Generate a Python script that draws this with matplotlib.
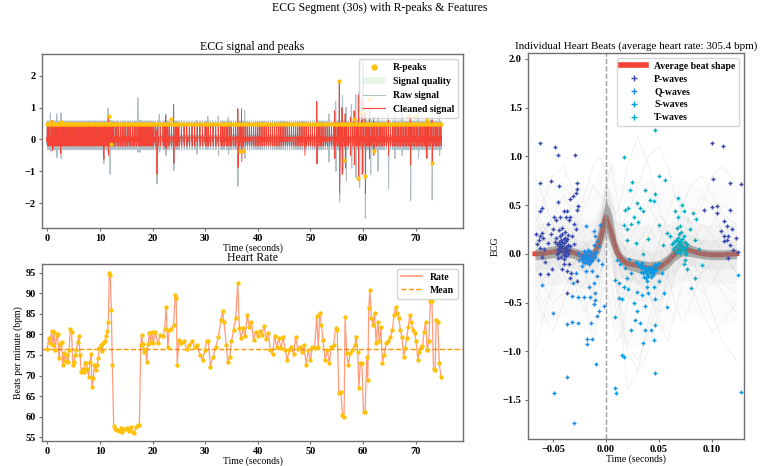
import numpy as np
import matplotlib
matplotlib.use("Agg")
import matplotlib.pyplot as plt
from matplotlib.lines import Line2D
from matplotlib.patches import Patch

plt.rcParams['font.family'] = ['Liberation Serif', 'DejaVu Serif']
plt.rcParams['font.weight'] = 'bold'
plt.rcParams['axes.unicode_minus'] = True

# ---------------- Heart rate (also R-peak times) ----------------
hr_times = [0.00,0.26,0.51,0.83,1.02,1.27,1.53,1.78,1.97,2.22,
            2.48,2.73,2.92,3.17,3.43,3.68,3.93,4.13,4.38,4.63,
            4.82,5.08,5.27,5.52,5.77,6.03,6.22,6.47,6.72,6.98,
            7.17,7.42,7.61,7.86,8.12,8.31,8.50,8.75,8.94,9.19,
            9.45,9.70,9.89,10.15,10.40,10.65,10.91,11.16,11.41,11.60,
            11.79,11.98,12.17,12.36,12.62,12.93,13.25,13.57,13.95,14.27,
            14.58,14.90,15.22,15.53,15.85,16.23,16.55,16.86,17.24,17.50,
            17.75,17.94,18.13,18.38,18.64,18.89,19.14,19.40,19.65,19.90,
            20.16,20.5,21.0,21.5,22.0,22.3,22.6,22.9,23.2,23.6,
            24.0,24.3,24.5,24.7,25.0,25.5,26.0,26.5,27.0,27.5,
            28.0,28.5,29.0,29.5,30.0,30.3,30.6,31.0,31.5,32.0,
            32.5,33.0,33.3,33.6,34.0,34.3,34.7,35.0,35.4,35.8,
            36.2,36.5,36.8,37.2,37.6,38.0,38.4,38.8,39.2,39.6,
            40.0,40.4,40.8,41.2,41.6,42.0,42.4,42.8,43.2,43.6,
            44.0,44.4,44.8,45.2,45.6,46.0,46.4,46.8,47.2,47.6,
            48.0,48.4,48.8,49.2,49.6,50.0,50.4,50.8,51.2,51.5,
            51.8,52.1,52.4,52.8,53.2,53.6,54.0,54.4,54.8,55.1,
            55.4,55.8,56.1,56.4,56.6,56.9,57.2,57.6,58.0,58.4,
            58.7,59.0,59.2,59.5,59.8,60.1,60.4,60.7,60.9,61.1,
            61.3,61.6,61.9,62.2,62.5,62.8,63.1,63.4,63.7,64.0,
            64.4,64.8,65.2,65.6,65.9,66.2,66.5,66.8,67.1,67.4,
            67.7,68.0,68.3,68.6,68.9,69.2,69.5,69.8,70.1,70.4,
            70.7,71.0,71.3,71.6,71.9,72.2,72.5,72.8,73.1,73.4,
            73.7,73.9,74.2,74.5,74.8]
hr_values = [76.4,79.1,77.8,80.9,77.4,80.5,76.2,79.9,80.2,74.2,
             77.6,78.1,72.6,75.4,73.5,75.0,73.4,76.2,81.3,80.5,
             72.6,73.2,75.0,76.2,78.1,79.6,75.0,70.9,71.7,70.9,
             73.0,73.0,71.6,69.7,73.4,75.2,67.3,69.3,72.6,71.3,
             72.6,74.3,76.6,77.4,76.0,77.8,78.3,79.5,80.9,83.1,
             94.9,94.5,86.0,72.6,57.8,57.0,56.7,56.5,57.3,56.3,
             57.0,57.0,57.2,56.5,57.4,56.3,56.1,57.5,57.9,57.9,
             77.4,79.9,77.6,75.8,76.4,73.4,77.6,80.3,78.1,80.5,
             77.8,80.7,77.8,79.9,79.5,81.3,86.6,76.9,81.1,81.4,
             82.3,89.6,88.8,72.6,78.7,77.8,78.5,76.4,77.4,78.3,
             76.9,77.4,75.0,73.9,76.2,78.3,78.5,72.2,74.6,77.0,
             79.3,83.5,85.6,82.9,77.4,73.4,74.6,78.3,81.1,83.9,
             92.5,81.5,79.1,81.5,79.5,84.8,81.7,83.1,78.7,80.7,
             79.5,80.9,79.9,82.1,78.8,80.3,76.2,75.2,79.6,77.0,
             79.1,76.6,79.3,76.2,73.8,76.2,77.0,75.2,79.3,76.4,
             77.0,75.8,77.4,72.6,76.2,73.8,77.0,76.6,84.5,77.0,
             85.3,82.3,78.7,73.8,76.2,73.0,77.0,77.4,81.5,81.1,
             65.7,65.9,60.4,60.0,84.2,75.4,72.6,75.4,76.2,77.4,
             79.3,75.8,66.9,73.0,73.0,61.2,61.2,74.6,68.9,86.4,
             90.9,83.9,82.3,85.2,77.8,83.1,78.3,81.7,73.0,75.0,
             77.8,78.3,79.3,81.1,84.8,86.6,85.2,83.9,81.1,79.3,
             74.4,76.6,79.1,81.9,84.8,82.9,81.1,80.4,78.3,73.9,
             75.8,77.0,77.2,80.7,83.1,76.2,78.3,88.0,88.0,71.7,
             71.3,83.5,83.1,73.0,69.7]
assert len(hr_times) == len(hr_values)

# ---------------- ECG signal ----------------
wave_offsets = [-0.10, -0.04, 0.0, 0.04, 0.12]       # s relative to R-peak
clean_wave = [0.05, -0.08, 0.47, -0.21, 0.08]
raw_wave = [0.10, -0.16, 0.58, -0.32, 0.14]
rpeak_amp = 0.47

clean_ev_t  = [1.0, 2.5, 10.7, 11.6, 20.8, 22.5, 24.0, 36.2, 36.9, 48.9, 51.2, 54.6, 55.5, 56.0,
               56.6, 57.6, 58.3, 59.1, 59.8, 60.4, 61.2, 62.0, 64.8, 69.0, 72.1, 73.1]
clean_ev_hi = [0.6, 0.55, 0.35, 0.75, 0.3, 0.75, 1.09, 0.96, 0.96, 0.3, 1.19, 0.9, 1.83, 1.0,
               0.8, 0.7, 0.9, 1.4, 1.2, 0.8, 0.9, 0.7, 0.6, 0.7, 0.7, 0.6]
clean_ev_lo = [-0.35, -0.45, -0.62, -0.5, -1.09, -0.3, -0.75, -0.88, -0.70, -0.5, -0.77, -0.6, -1.7, -1.1,
               -0.9, -0.5, -0.8, -1.3, -1.1, -1.7, -0.6, -0.5, -0.5, -0.8, -0.6, -0.8]

raw_ev_t  = [0.6, 1.8, 2.6, 10.7, 11.5, 11.9, 17.2, 17.6, 20.8, 21.3, 22.5, 24.0, 28.4, 30.5, 32.5,
             34.4, 36.2, 37.5, 51.2, 53.5, 54.8, 55.5, 56.1, 56.8, 57.8, 58.6, 59.3, 60.0, 60.4,
             61.4, 62.8, 64.8, 66.0, 67.4, 69.0, 70.5, 73.1, 74.5]
raw_ev_hi = [0.83, 0.8, 0.83, 0.5, 0.98, 0.6, 1.31, 0.6, 0.4, 0.78, 0.8, 1.09, 0.6, 0.72, 0.72,
             0.7, 0.96, 0.9, 1.19, 0.8, 1.2, 1.83, 1.39, 1.0, 1.1, 1.4, 1.5, 2.48, 0.9,
             1.0, 0.7, 0.8, 0.9, 0.9, 0.8, 0.9, 0.7, 0.8]
raw_ev_lo = [-0.4, -0.57, -0.6, -0.75, -0.4, -1.09, -0.40, -0.40, -1.40, -0.4, -0.5, -0.98, -0.46, -0.3, -0.5,
             -0.46, -1.47, -0.6, -0.77, -0.7, -1.0, -1.96, -1.0, -1.3, -0.9, -1.2, -1.5, -1.0, -2.48,
             -1.1, -1.0, -1.55, -0.6, -0.5, -1.91, -0.6, -1.9, -0.5]

extra_rpeak_t = [0.8, 2.6, 11.7, 12.2, 23.6, 36.6, 37.2, 55.5, 56.3, 58.3, 59.1, 59.8, 60.4, 61.2,
                 62.0, 68.6, 69.9, 72.1, 73.1]
extra_rpeak_v = [0.56, 0.55, 0.73, -0.13, 0.63, -0.36, -0.36, 1.83, -0.65, 0.65, -1.2, 0.87, -1.15, 1.27,
                 -0.36, 0.72, 0.72, 0.6, -0.75]

# ---------------- Individual heart beats ----------------
beat_t   = [-0.067,-0.06,-0.05,-0.04,-0.03,-0.02,-0.012,-0.006,0.0,0.005,0.01,0.015,0.02,0.03,0.04,0.05,0.058,0.065,0.072,0.08,0.09,0.1,0.11,0.123]
avg_beat = [0.0,0.0,0.02,0.04,0.01,-0.03,-0.02,0.12,0.38,0.22,0.02,-0.06,-0.10,-0.12,-0.15,-0.14,-0.08,0.00,0.06,0.03,0.00,-0.01,-0.01,0.0]
core_hi  = [0.05,0.06,0.08,0.10,0.06,0.03,0.05,0.30,0.55,0.42,0.12,0.00,-0.04,-0.06,-0.08,-0.07,-0.01,0.08,0.14,0.09,0.05,0.04,0.04,0.05]
core_lo  = [-0.06,-0.06,-0.04,-0.02,-0.05,-0.09,-0.08,0.02,0.22,0.08,-0.06,-0.12,-0.16,-0.19,-0.22,-0.21,-0.15,-0.07,-0.02,-0.03,-0.05,-0.06,-0.06,-0.05]
mid_hi   = [0.15,0.16,0.18,0.20,0.17,0.13,0.16,0.38,0.62,0.50,0.20,0.10,0.06,0.05,0.03,0.04,0.10,0.18,0.24,0.19,0.15,0.14,0.14,0.15]
mid_lo   = [-0.15,-0.16,-0.14,-0.12,-0.15,-0.20,-0.20,-0.08,0.12,-0.02,-0.18,-0.25,-0.28,-0.30,-0.33,-0.32,-0.26,-0.17,-0.10,-0.12,-0.15,-0.16,-0.16,-0.15]
haze_hi  = [0.30,0.32,0.35,0.38,0.35,0.30,0.35,0.50,0.75,0.60,0.35,0.30,0.30,0.30,0.28,0.28,0.30,0.35,0.40,0.35,0.30,0.30,0.30,0.30]
haze_lo  = [-0.30,-0.32,-0.32,-0.30,-0.32,-0.36,-0.36,-0.20,0.00,-0.15,-0.35,-0.42,-0.45,-0.48,-0.50,-0.48,-0.40,-0.32,-0.28,-0.28,-0.30,-0.30,-0.30,-0.30]
wide_hi  = [0.65,0.70,0.72,0.75,0.70,0.68,0.72,0.85,1.05,0.95,0.75,0.70,0.72,0.75,0.75,0.72,0.70,0.72,0.75,0.72,0.70,0.72,0.72,0.70]
wide_lo  = [-0.70,-0.72,-0.70,-0.65,-0.70,-0.78,-0.80,-0.60,-0.45,-0.60,-0.80,-0.90,-0.95,-0.95,-0.90,-0.85,-0.75,-0.65,-0.60,-0.62,-0.65,-0.68,-0.70,-0.72]
outlier_beats = [
    [0.3,0.5,0.8,0.9,0.6,0.3,0.2,0.35,0.5,0.4,0.3,0.3,0.4,0.7,1.0,1.1,0.9,0.6,0.4,0.3,0.5,0.8,0.9,0.7],
    [-0.4,-0.6,-0.8,-0.5,-0.2,-0.5,-0.9,-0.6,0.2,0.1,-0.3,-0.6,-0.9,-1.1,-0.8,-0.5,-0.3,-0.2,-0.1,-0.3,-0.6,-0.8,-0.7,-0.5],
    [0.8,0.6,0.3,0.1,0.2,0.5,0.7,0.6,0.5,0.3,-0.2,-0.5,-0.4,-0.1,0.2,0.4,0.3,0.1,0.2,0.4,0.6,0.5,0.2,0.0],
    [-1.0,-0.7,-0.3,0.0,-0.3,-0.6,-0.4,0.0,0.4,0.1,-0.3,-0.7,-1.0,-1.2,-1.0,-0.6,-0.2,0.1,0.2,0.0,-0.3,-0.6,-0.9,-1.1],
    [0.2,0.0,-0.2,-0.1,0.3,0.6,0.9,1.0,0.8,0.4,0.2,0.0,0.1,0.3,0.5,0.3,0.0,-0.2,-0.1,0.1,0.3,0.2,0.0,-0.2],
    [-0.2,-0.1,0.1,0.4,0.5,0.2,-0.2,-0.3,0.1,0.0,-0.4,-0.8,-1.4,-1.2,-0.7,-0.3,0.0,0.2,0.3,0.2,0.1,0.3,0.5,0.4],
    [0.5,0.3,0.1,0.0,-0.1,0.0,0.2,0.4,0.6,0.5,0.4,0.6,0.9,1.2,0.9,0.5,0.2,0.1,0.0,-0.2,-0.4,-0.3,-0.1,0.1],
    [-0.5,-0.3,0.0,0.3,0.2,-0.2,-0.5,-0.3,0.3,0.2,0.0,-0.2,-0.3,-0.2,-0.4,-0.6,-0.5,-0.2,0.0,-0.1,-0.2,-0.1,0.0,-0.2],
    [0.1,0.2,0.4,0.6,0.4,0.1,-0.1,0.2,0.7,0.9,0.6,0.2,-0.1,-0.3,-0.2,0.1,0.4,0.6,0.5,0.3,0.1,-0.1,-0.3,-0.4],
    [-0.1,-0.3,-0.5,-0.4,-0.1,0.1,0.0,-0.2,0.0,-0.3,-0.6,-0.5,-0.2,0.1,0.3,0.1,-0.2,-0.5,-0.7,-0.5,-0.2,0.1,0.2,0.3],
    [0.4,0.2,0.0,-0.2,-0.4,-0.3,0.0,0.3,0.7,0.6,0.3,0.1,0.0,0.1,0.0,-0.2,-0.1,0.2,0.5,0.7,0.8,0.6,0.4,0.3],
    [-0.3,-0.5,-0.4,-0.1,0.0,-0.2,-0.4,-0.5,-0.3,-0.6,-0.9,-0.8,-0.5,-0.3,-0.4,-0.7,-0.9,-0.6,-0.3,-0.1,0.0,-0.2,-0.4,-0.6],
]

p_x = [-0.046,-0.044,-0.042,-0.040,-0.038,-0.036,-0.034,-0.045,-0.043,-0.041,-0.039,-0.037,-0.035,-0.046,-0.044,-0.042,
       -0.040,-0.038,-0.036,-0.047,-0.043,-0.041,-0.039,-0.037,-0.045,-0.042,-0.040,-0.038,-0.044,-0.041,-0.039,-0.036,
       -0.043,-0.041,-0.039,-0.042,-0.040,-0.038,-0.044,-0.040,
       -0.062,-0.048,-0.045,-0.029,-0.062,-0.052,-0.044,-0.027,-0.027,-0.028,-0.034,-0.031,-0.045,-0.060,-0.062,-0.026,
       -0.027,-0.040,-0.037,-0.043,-0.038,-0.035,-0.034,-0.049,-0.047,-0.055,-0.030,-0.028,-0.060,-0.062,-0.059,-0.063,
       -0.055,-0.062,-0.060,-0.057,-0.062,-0.055,-0.041,-0.037,-0.033,-0.040,-0.035,-0.034,-0.027,-0.037,-0.051,-0.050,
       -0.052,-0.048,-0.066,-0.065,-0.058,-0.030,-0.032,
       0.0996,0.1106,0.101,0.117,0.092,0.0996,0.105,0.105,0.117,0.111,0.114,0.108,0.111,0.115,0.114,0.111,0.117,0.120,
       0.115,0.127,0.124,0.119,0.122]
p_y = [0.10,0.12,0.14,0.11,0.13,0.09,0.08,0.05,0.07,0.08,0.06,0.05,0.04,0.00,0.02,0.03,
       0.01,0.02,0.00,0.16,0.18,0.20,0.16,0.15,-0.04,-0.03,-0.05,-0.02,0.24,0.26,0.22,0.19,
       0.10,0.12,0.04,0.06,0.15,0.07,0.09,-0.01,
       1.14,1.10,1.01,1.01,0.73,0.75,0.70,0.73,0.66,0.62,0.56,0.59,0.53,0.47,0.44,0.49,
       0.45,0.44,0.44,0.38,0.38,0.35,0.38,0.38,0.35,0.31,0.31,0.25,0.21,0.18,0.16,0.14,
       0.11,0.06,-0.03,-0.08,-0.21,-0.21,-0.16,-0.18,-0.20,-0.10,-0.11,-0.25,-0.28,-0.40,-0.16,0.25,
       0.20,0.12,0.20,0.10,0.05,0.10,0.18,
       1.14,1.11,0.77,0.73,0.45,0.48,0.49,0.42,0.45,0.34,0.28,0.23,0.185,0.185,0.14,0.13,0.09,0.04,
       -0.045,0.72,0.02,0.25,0.16]

q_x = [-0.024,-0.022,-0.020,-0.018,-0.016,-0.014,-0.012,-0.023,-0.021,-0.019,-0.017,-0.015,-0.013,-0.022,
       -0.020,-0.018,-0.016,-0.014,-0.025,-0.021,-0.019,-0.017,-0.015,-0.011,-0.010,-0.009,-0.008,-0.026,
       -0.020,-0.017,-0.019,-0.015,
       -0.010,-0.0085,-0.0116,-0.019,-0.007,-0.0116,-0.0226,-0.019,-0.013,-0.0085,-0.0116,-0.016,-0.010,-0.015,
       -0.026,-0.032,-0.021,-0.010,-0.0116,-0.002,-0.007,-0.0085,-0.050,-0.032,-0.026,-0.037,-0.0138,-0.018,
       -0.0132,-0.018,-0.0094,-0.037,-0.049,-0.030,-0.060,-0.006,-0.004,-0.028,-0.031]
q_y = [-0.02,-0.01,0.00,-0.02,-0.01,0.01,-0.03,-0.05,-0.04,-0.06,-0.05,-0.04,-0.06,-0.08,
       -0.09,-0.08,-0.10,-0.07,-0.06,0.03,0.02,0.04,0.02,0.00,-0.03,0.02,-0.06,0.01,
       -0.03,-0.03,-0.06,-0.08,
       0.18,0.13,0.09,0.28,0.075,0.23,-0.13,-0.18,-0.18,-0.23,-0.30,-0.34,-0.40,-0.44,
       -0.44,-0.43,-0.44,-0.47,-0.52,-0.54,-0.59,-0.64,-0.61,-0.70,-0.71,-0.72,-0.71,-0.87,
       -0.87,-0.93,-1.13,-1.26,-1.43,-1.74,-0.32,0.30,-0.10,-0.20,-0.30]

s_x = [0.032,0.034,0.036,0.038,0.040,0.042,0.044,0.046,0.048,0.033,0.035,0.037,0.039,0.041,
       0.043,0.045,0.047,0.036,0.038,0.040,0.042,0.044,0.030,0.050,0.028,0.034,0.046,0.039,
       0.041,0.043,0.038,0.044,
       0.010,0.0135,0.0088,0.012,0.0166,0.0197,0.021,0.015,0.012,0.026,0.029,0.037,0.029,0.034,
       0.040,0.046,0.039,0.045,0.050,0.053,0.032,0.0276,0.037,0.042,0.046,0.045,0.035,0.024,
       0.015,0.017,0.0088,0.0097,0.046,0.0088,0.127,0.124,0.018,0.024,0.022,0.055,0.057]
s_y = [-0.13,-0.15,-0.14,-0.16,-0.15,-0.14,-0.16,-0.13,-0.12,-0.19,-0.20,-0.18,-0.21,-0.19,
       -0.20,-0.18,-0.17,-0.24,-0.25,-0.23,-0.24,-0.22,-0.10,-0.09,-0.08,-0.09,-0.10,-0.28,
       -0.17,-0.16,-0.18,-0.20,
       -0.06,-0.10,-0.27,-0.30,-0.34,-0.25,-0.36,-0.46,-0.45,-0.51,-0.59,-0.54,-0.39,-0.42,
       -0.40,-0.46,-0.34,-0.34,-0.28,-0.20,-0.71,-0.68,-0.78,-0.78,-0.73,-0.88,-0.92,-0.78,
       -1.04,-1.06,-1.38,-1.43,-1.22,-0.65,-1.42,-0.22,-0.15,-0.20,-0.05,-0.40,-0.55]

t_x = [0.064,0.066,0.068,0.070,0.072,0.074,0.076,0.065,0.067,0.069,0.071,0.073,0.075,0.066,
       0.068,0.070,0.072,0.074,0.063,0.069,0.071,0.073,0.067,0.070,0.075,0.062,
       0.069,0.071,0.072,0.068,
       0.046,0.0166,0.0495,0.056,0.0245,0.0229,0.037,0.046,0.0417,0.045,0.029,0.032,0.035,0.018,
       0.021,0.026,0.030,0.0166,0.024,0.0197,0.068,0.0714,0.073,0.065,0.068,0.082,0.085,0.079,
       0.084,0.057,0.060,0.054,0.035,0.028,0.020,0.0746,0.073,0.076,0.084,0.080,0.05,0.04,0.088,0.09]
t_y = [0.12,0.14,0.16,0.13,0.15,0.12,0.10,0.07,0.09,0.06,0.08,0.05,0.07,0.02,
       0.03,0.01,0.04,0.02,0.05,0.20,0.22,0.18,0.26,0.28,0.00,0.10,
       0.11,0.10,0.07,0.13,
       1.27,0.99,0.80,0.76,0.74,0.65,0.65,0.61,0.555,0.54,0.52,0.47,0.435,0.45,
       0.47,0.38,0.33,0.30,0.31,0.25,0.57,0.50,0.435,0.435,0.38,0.42,0.36,0.25,
       0.14,0.21,0.18,0.09,0.0,0.11,0.14,-0.06,-0.1,-0.16,-0.25,-0.35,0.3,0.15,0.05,-0.12]


def build_signal(times, offsets, wave, ev_t, ev_hi, ev_lo):
    xs, ys = [], []
    for t in times:
        for d, v in zip(offsets, wave):
            xs.append(t + d)
            ys.append(v)
    for t, h, l in zip(ev_t, ev_hi, ev_lo):
        xs += [t, t + 0.05]
        ys += [h, l]
    xs = np.array(xs)
    ys = np.array(ys)
    order = np.argsort(xs, kind='stable')
    return xs[order], ys[order]


raw_x, raw_y = build_signal(hr_times, wave_offsets, raw_wave, raw_ev_t, raw_ev_hi, raw_ev_lo)
cl_x, cl_y = build_signal(hr_times, wave_offsets, clean_wave, clean_ev_t, clean_ev_hi, clean_ev_lo)

fig = plt.figure(figsize=(7.6, 4.66), dpi=100)
ax0 = fig.add_axes([0.0553, 0.5107, 0.5539, 0.3734])
ax1 = fig.add_axes([0.0553, 0.0536, 0.5539, 0.3799])
ax2 = fig.add_axes([0.6947, 0.058, 0.2843, 0.8283])

spine_col = '#707070'
for ax in (ax0, ax1, ax2):
    for s in ax.spines.values():
        s.set_color(spine_col)
        s.set_linewidth(1.0)
    ax.tick_params(labelsize=7.5, length=2.5, width=0.8, color=spine_col, pad=2)

fig.text(0.5, 0.982, "ECG Segment (30s) with R-peaks & Features", ha='center', va='center',
         fontsize=8.5, fontweight='normal')

# ---- ECG panel ----
ymin0, ymax0 = -2.78, 2.68
ax0.fill_between(cl_x[:2], ymin0, ymin0, color='#4CAF50', alpha=0.12, linewidth=0)
ax0.plot(raw_x, raw_y, color='#B0BEC5', lw=0.8, zorder=1)
ax0.plot(cl_x, cl_y, color='#F44336', lw=0.6, zorder=2)
ax0.scatter(hr_times, [rpeak_amp] * len(hr_times), color='#FFC107', s=9, zorder=3, linewidths=0)
ax0.scatter(extra_rpeak_t, extra_rpeak_v, color='#FFC107', s=9, zorder=3, linewidths=0)
ax0.set_xlim(-1, 79)
ax0.set_ylim(ymin0, ymax0)
ax0.set_xticks([0, 10, 20, 30, 40, 50, 60, 70])
ax0.set_yticks([-2, -1, 0, 1, 2])
ax0.set_title("ECG signal and peaks", fontsize=8.5, fontweight='normal', pad=3)
ax0.set_xlabel("Time (seconds)", fontsize=7, fontweight='normal', labelpad=0)
h0 = [Line2D([], [], marker='o', ls='none', color='#FFC107', markersize=3.5),
      Patch(facecolor='#4CAF50', alpha=0.12),
      Line2D([], [], color='#B0BEC5', lw=0.8),
      Line2D([], [], color='#F44336', lw=0.8)]
ax0.legend(h0, ["R-peaks", "Signal quality", "Raw signal", "Cleaned signal"], loc='upper right',
           fontsize=7, framealpha=0.8, borderpad=0.45, labelspacing=0.5, handlelength=2.2)

# ---- Heart rate panel ----
hr_mean = float(np.mean(hr_values))
ax1.plot(hr_times, hr_values, color='#FF5722', alpha=0.6, lw=0.9, zorder=2)
ax1.scatter(hr_times, hr_values, color='#FFC107', s=10, zorder=3, linewidths=0)
ax1.axhline(hr_mean, color='#FF9800', ls='--', lw=1.0, zorder=1)
ax1.set_xlim(-1, 79)
ax1.set_ylim(54.1, 97.1)
ax1.set_xticks([0, 10, 20, 30, 40, 50, 60, 70])
ax1.set_yticks([55, 60, 65, 70, 75, 80, 85, 90, 95])
ax1.set_title("Heart Rate", fontsize=8.5, fontweight='normal', pad=1)
ax1.set_xlabel("Time (seconds)", fontsize=7, fontweight='normal', labelpad=0)
ax1.set_ylabel("Beats per minute (bpm)", fontsize=7, fontweight='normal', labelpad=2)
h1 = [Line2D([], [], color='#FF5722', alpha=0.6, lw=1.2), Line2D([], [], color='#FF9800', ls='--', lw=1.0)]
ax1.legend(h1, ["Rate", "Mean"], loc='upper right', fontsize=7, framealpha=0.8,
           borderpad=0.4, labelspacing=0.4, handlelength=2.2)

# ---- Individual heart beats panel ----
ax2.plot(beat_t, avg_beat, color='#F44336', lw=3.5, zorder=1, solid_capstyle='projecting')
ax2.fill_between(beat_t, wide_lo, wide_hi, color='#9E9E9E', alpha=0.04, linewidth=0, zorder=2)
ax2.fill_between(beat_t, haze_lo, haze_hi, color='#9E9E9E', alpha=0.07, linewidth=0, zorder=2)
ax2.fill_between(beat_t, mid_lo, mid_hi, color='#9E9E9E', alpha=0.10, linewidth=0, zorder=2)
for ob in outlier_beats:
    ax2.plot(beat_t, ob, color='#C8C8C8', lw=0.5, alpha=0.35, zorder=2)
ax2.fill_between(beat_t, core_lo, core_hi, color='#757575', alpha=0.55, linewidth=0, zorder=2)
ax2.axvline(0, color='#9E9E9E', ls='--', lw=1.0, zorder=2)
ax2.scatter(p_x, p_y, marker='+', color='#3949AB', s=11, linewidths=1.0, zorder=3)
ax2.scatter(q_x, q_y, marker='+', color='#1E88E5', s=11, linewidths=1.0, zorder=3)
ax2.scatter(s_x, s_y, marker='+', color='#039BE5', s=11, linewidths=1.0, zorder=3)
ax2.scatter(t_x, t_y, marker='+', color='#00ACC1', s=11, linewidths=1.0, zorder=3)
ax2.set_xlim(-0.0735, 0.130)
ax2.set_ylim(-1.90, 2.06)
ax2.set_xticks([-0.05, 0.0, 0.05, 0.10])
ax2.set_xticklabels(["\u22120.05", "0.00", "0.05", "0.10"])
ax2.set_yticks([-1.5, -1.0, -0.5, 0.0, 0.5, 1.0, 1.5, 2.0])
ax2.set_title("Individual Heart Beats (average heart rate: 305.4 bpm)", fontsize=8,
              fontweight='normal', pad=3)
ax2.set_xlabel("Time (seconds)", fontsize=7, fontweight='normal', labelpad=0)
ax2.set_ylabel("ECG", fontsize=7, fontweight='normal', labelpad=2)
h2 = [Line2D([], [], color='#F44336', lw=4),
      Line2D([], [], marker='+', ls='none', color='#3949AB', markersize=4),
      Line2D([], [], marker='+', ls='none', color='#1E88E5', markersize=4),
      Line2D([], [], marker='+', ls='none', color='#039BE5', markersize=4),
      Line2D([], [], marker='+', ls='none', color='#00ACC1', markersize=4)]
ax2.legend(h2, ["Average beat shape", "P-waves", "Q-waves", "S-waves", "T-waves"], loc='upper right',
           fontsize=7, framealpha=0.8, borderpad=0.4, labelspacing=0.4, handlelength=2.6)

fig.savefig("out.png", dpi=100)
